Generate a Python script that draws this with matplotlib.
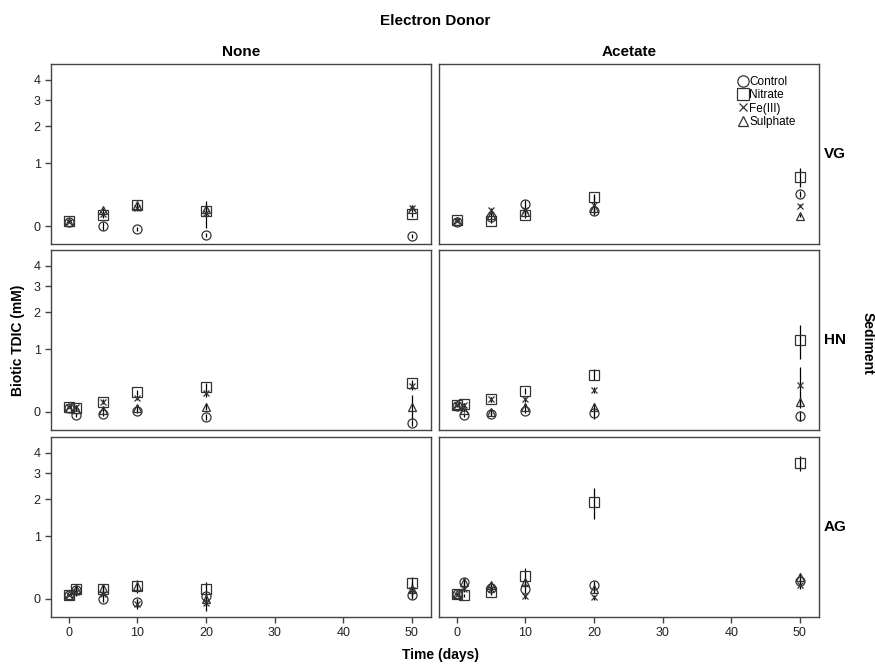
import numpy as np
import matplotlib
matplotlib.use("Agg")
import matplotlib.pyplot as plt

plt.rcParams['font.family'] = ['Liberation Sans', 'DejaVu Sans']

nan = np.nan
days = [0, 1, 5, 10, 20, 50]
treatments = ["Control", "Nitrate", "Fe(III)", "Sulphate"]
sediments = ["VG", "HN", "AG"]
donors = ["None", "Acetate"]

# --- values (mM) per sediment / donor / treatment, at days above ---
vg_none_control = [0.05, nan, 0.00, -0.03, -0.09, -0.10]
vg_none_nitrate = [0.06, nan, 0.13, 0.26, 0.18, 0.14]
vg_none_fe = [0.05, nan, 0.14, 0.22, 0.15, 0.22]
vg_none_sulphate = [0.05, nan, 0.19, 0.26, 0.20, 0.20]

vg_acet_control = [0.05, nan, 0.10, 0.28, 0.18, 0.42]
vg_acet_nitrate = [0.07, nan, 0.06, 0.13, 0.37, 0.71]
vg_acet_fe = [0.06, nan, 0.19, 0.19, 0.26, 0.25]
vg_acet_sulphate = [0.06, nan, 0.13, 0.17, 0.22, 0.12]

hn_none_control = [0.05, -0.03, -0.02, 0.01, -0.05, -0.11]
hn_none_nitrate = [0.06, 0.05, 0.12, 0.24, 0.31, 0.38]
hn_none_fe = [0.06, 0.06, 0.12, 0.17, 0.23, 0.33]
hn_none_sulphate = [0.05, 0.03, 0.025, 0.05, 0.06, 0.06]

hn_acet_control = [0.07, -0.03, -0.02, 0.01, -0.01, -0.04]
hn_acet_nitrate = [0.08, 0.09, 0.15, 0.26, 0.51, 1.20]
hn_acet_fe = [0.08, 0.08, 0.15, 0.15, 0.27, 0.34]
hn_acet_sulphate = [0.08, 0.02, 0.00, 0.06, 0.06, 0.12]

ag_none_control = [0.05, 0.10, 0.00, -0.03, 0.03, 0.05]
ag_none_nitrate = [0.05, 0.11, 0.12, 0.15, 0.12, 0.19]
ag_none_fe = [0.05, 0.08, 0.06, -0.05, -0.04, 0.10]
ag_none_sulphate = [0.05, 0.11, 0.13, 0.15, 0.00, 0.12]

ag_acet_control = [0.06, 0.20, 0.13, 0.12, 0.16, 0.22]
ag_acet_nitrate = [0.06, 0.04, 0.08, 0.29, 1.91, 3.46]
ag_acet_fe = [0.05, 0.12, 0.12, 0.03, 0.02, 0.16]
ag_acet_sulphate = [0.06, 0.20, 0.17, 0.20, 0.12, 0.27]

# --- error bar half-widths (mM) ---
vg_none_control_err = [0.01, nan, 0.04, 0.02, 0.02, 0.02]
vg_none_nitrate_err = [0.01, nan, 0.04, 0.03, 0.05, 0.03]
vg_none_fe_err = [0.01, nan, 0.03, 0.04, 0.17, 0.03]
vg_none_sulphate_err = [0.01, nan, 0.03, 0.03, 0.05, 0.03]

vg_acet_control_err = [0.01, nan, 0.03, 0.05, 0.04, 0.05]
vg_acet_nitrate_err = [0.01, nan, 0.03, 0.04, 0.05, 0.18]
vg_acet_fe_err = [0.01, nan, 0.03, 0.05, 0.13, 0.02]
vg_acet_sulphate_err = [0.01, nan, 0.03, 0.05, 0.05, 0.02]

hn_none_control_err = [0.01, 0.02, 0.02, 0.02, 0.03, 0.03]
hn_none_nitrate_err = [0.01, 0.02, 0.03, 0.04, 0.06, 0.05]
hn_none_fe_err = [0.01, 0.02, 0.02, 0.03, 0.05, 0.05]
hn_none_sulphate_err = [0.01, 0.02, 0.03, 0.03, 0.04, 0.14]

hn_acet_control_err = [0.01, 0.02, 0.02, 0.02, 0.06, 0.05]
hn_acet_nitrate_err = [0.01, 0.02, 0.03, 0.04, 0.09, 0.40]
hn_acet_fe_err = [0.01, 0.02, 0.03, 0.03, 0.04, 0.30]
hn_acet_sulphate_err = [0.01, 0.02, 0.03, 0.04, 0.05, 0.05]

ag_none_control_err = [0.01, 0.03, 0.03, 0.03, 0.04, 0.05]
ag_none_nitrate_err = [0.01, 0.05, 0.04, 0.06, 0.08, 0.08]
ag_none_fe_err = [0.01, 0.05, 0.04, 0.05, 0.08, 0.08]
ag_none_sulphate_err = [0.01, 0.05, 0.04, 0.08, 0.07, 0.08]

ag_acet_control_err = [0.01, 0.05, 0.04, 0.05, 0.06, 0.05]
ag_acet_nitrate_err = [0.01, 0.02, 0.03, 0.11, 0.50, 0.37]
ag_acet_fe_err = [0.01, 0.04, 0.04, 0.03, 0.03, 0.04]
ag_acet_sulphate_err = [0.01, 0.06, 0.04, 0.05, 0.05, 0.06]

data = {
    ("VG", "None"): [vg_none_control, vg_none_nitrate, vg_none_fe, vg_none_sulphate],
    ("VG", "Acetate"): [vg_acet_control, vg_acet_nitrate, vg_acet_fe, vg_acet_sulphate],
    ("HN", "None"): [hn_none_control, hn_none_nitrate, hn_none_fe, hn_none_sulphate],
    ("HN", "Acetate"): [hn_acet_control, hn_acet_nitrate, hn_acet_fe, hn_acet_sulphate],
    ("AG", "None"): [ag_none_control, ag_none_nitrate, ag_none_fe, ag_none_sulphate],
    ("AG", "Acetate"): [ag_acet_control, ag_acet_nitrate, ag_acet_fe, ag_acet_sulphate],
}
errors = {
    ("VG", "None"): [vg_none_control_err, vg_none_nitrate_err, vg_none_fe_err, vg_none_sulphate_err],
    ("VG", "Acetate"): [vg_acet_control_err, vg_acet_nitrate_err, vg_acet_fe_err, vg_acet_sulphate_err],
    ("HN", "None"): [hn_none_control_err, hn_none_nitrate_err, hn_none_fe_err, hn_none_sulphate_err],
    ("HN", "Acetate"): [hn_acet_control_err, hn_acet_nitrate_err, hn_acet_fe_err, hn_acet_sulphate_err],
    ("AG", "None"): [ag_none_control_err, ag_none_nitrate_err, ag_none_fe_err, ag_none_sulphate_err],
    ("AG", "Acetate"): [ag_acet_control_err, ag_acet_nitrate_err, ag_acet_fe_err, ag_acet_sulphate_err],
}

yticks = [0, 1, 2, 3, 4]
xticks = [0, 10, 20, 30, 40, 50]

markers = ["o", "s", "x", "^"]
msizes = [6.5, 6.5, 4.5, 5.5]
edge = "#333333"
axcol = "#444444"

fig = plt.figure(figsize=(8.75, 6.64), dpi=100)

col_x = [0.0583, 0.5017]
col_w = 0.4343
row_y = [0.6325, 0.3524, 0.0708]
row_h = 0.271

fwd = lambda v: np.log1p(np.maximum(v, -0.99))
inv = lambda v: np.expm1(v)

axes = {}
for r, sed in enumerate(sediments):
    for c, don in enumerate(donors):
        ax = fig.add_axes([col_x[c], row_y[r], col_w, row_h])
        axes[(sed, don)] = ax
        ax.set_yscale("function", functions=(fwd, inv))
        ax.set_xlim(-2.6, 52.8)
        ax.set_ylim(-0.18, 4.95)
        for i, t in enumerate(treatments):
            vals = np.array(data[(sed, don)][i], dtype=float)
            errs = np.array(errors[(sed, don)][i], dtype=float)
            x = np.array(days, dtype=float)
            ax.errorbar(x, vals, yerr=errs, fmt="none", ecolor="black",
                        elinewidth=0.9, capsize=0, zorder=2)
            ax.plot(x, vals, linestyle="none", marker=markers[i],
                    markersize=msizes[i], markerfacecolor="none",
                    markeredgecolor=edge, markeredgewidth=0.9,
                    label=t, zorder=3)
        for s in ax.spines.values():
            s.set_color(axcol)
            s.set_linewidth(1.0)
        ax.tick_params(colors=axcol, labelcolor="#222222", labelsize=9,
                       length=4, width=1, direction="out")
        if c == 0:
            ax.set_yticks(yticks)
            ax.set_yticklabels([str(v) for v in yticks])
        else:
            ax.set_yticks([])
        ax.minorticks_off()
        if r == 2:
            ax.set_xticks(xticks)
            ax.set_xticklabels([str(v) for v in xticks])
        else:
            ax.set_xticks([])
        if c == 1:
            ax.text(1.012, 0.5, sed, transform=ax.transAxes, ha="left",
                    va="center", fontsize=11, fontweight="bold")
        if r == 0:
            ax.set_title(don, fontsize=11, fontweight="bold", pad=6)

leg = axes[("VG", "Acetate")].legend(loc="upper left", bbox_to_anchor=(0.787, 0.935),
                                      frameon=False, fontsize=8.5, handlelength=0.8,
                                      handletextpad=0.15, labelspacing=0.12,
                                      borderaxespad=0.0, borderpad=0.0,
                                      markerscale=1.25)

fig.text(0.497, 0.968, "Electron Donor", ha="center", va="center",
         fontsize=11, fontweight="bold")
fig.text(0.021, 0.487, "Biotic TDIC (mM)", ha="center", va="center",
         rotation=90, fontsize=10, fontweight="bold")
fig.text(0.503, 0.013, "Time (days)", ha="center", va="center",
         fontsize=10, fontweight="bold")
fig.text(0.991, 0.483, "Sediment", ha="center", va="center",
         rotation=-90, fontsize=10, fontweight="bold")

fig.savefig("out.png", dpi=100)
